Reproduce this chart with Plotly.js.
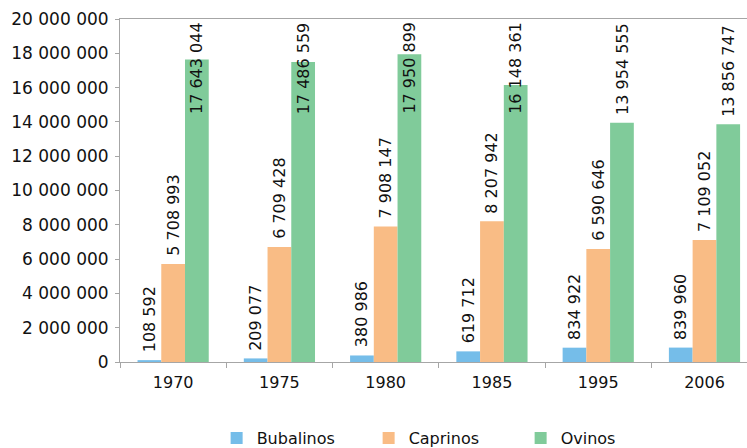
<!DOCTYPE html>
<html>
<head>
<meta charset="utf-8">
<script src="https://cdn.plot.ly/plotly-3.0.1.min.js"></script>
<style>html,body{margin:0;padding:0;background:#fff;}#chart{width:747px;height:448px;}</style>
</head>
<body>
<div id="chart"></div>
<script>
var categories = ["1970", "1975", "1980", "1985", "1995", "2006"];
var seriesNames = ["Bubalinos", "Caprinos", "Ovinos"];
var bubalinos = [108592, 209077, 380986, 619712, 834922, 839960];
var caprinos = [5708993, 6709428, 7908147, 8207942, 6590646, 7109052];
var ovinos = [17643044, 17486559, 17950899, 16148361, 13954555, 13856747];
var yTicks = [0, 2000000, 4000000, 6000000, 8000000, 10000000, 12000000, 14000000, 16000000, 18000000, 20000000];

var colors = ["#75BDE9", "#F9BC85", "#80CB9A"];
var allSeries = [bubalinos, caprinos, ovinos];

function fmt(v) {
  return String(v).replace(/\B(?=(\d{3})+(?!\d))/g, " ");
}

var traces = allSeries.map(function (vals, i) {
  return {
    type: "bar",
    name: seriesNames[i],
    x: categories,
    y: vals,
    marker: { color: colors[i], line: { width: 0 } },
    hoverinfo: "none"
  };
});

var FONT = "DejaVu Sans, sans-serif";
var FS = 16;
var capValue = 14000000;
var shifts = [-24, 0, 24];
var annotations = [];
allSeries.forEach(function (vals, i) {
  vals.forEach(function (v, j) {
    annotations.push({
      x: j,
      y: Math.min(v, capValue),
      xref: "x",
      yref: "y",
      text: fmt(v),
      textangle: -90,
      showarrow: false,
      xanchor: "center",
      yanchor: "bottom",
      xshift: shifts[i],
      yshift: 6,
      font: { family: FONT, size: FS, color: "#111" }
    });
  });
});

var layout = {
  width: 747,
  height: 448,
  margin: { l: 120, r: 0, t: 19, b: 86, autoexpand: false },
  paper_bgcolor: "#fff",
  plot_bgcolor: "#fff",
  separators: ", ",
  barmode: "group",
  bargap: 0.33,
  bargroupgap: 0,
  showlegend: true,
  legend: {
    orientation: "h",
    x: 0.29,
    xanchor: "left",
    xref: "container",
    yref: "container",
    y: 0.022,
    yanchor: "middle",
    font: { family: FONT, size: FS, color: "#111" },
    itemwidth: 30,
    entrywidth: 107
  },
  xaxis: {
    type: "category",
    range: [-0.5, 5.4],
    showline: true,
    linecolor: "#A6A6A6",
    linewidth: 1,
    mirror: true,
    ticks: "outside",
    tickson: "boundaries",
    ticklen: 5,
    tickcolor: "#A6A6A6",
    showgrid: false,
    tickangle: 0,
    ticklabelstandoff: 6,
    automargin: false,
    tickfont: { family: FONT, size: FS, color: "#111" },
    fixedrange: true
  },
  yaxis: {
    range: [0, 20000000],
    tickvals: yTicks,
    ticktext: yTicks.map(fmt),
    showline: true,
    linecolor: "#A6A6A6",
    linewidth: 1,
    ticks: "outside",
    ticklen: 4,
    tickcolor: "#A6A6A6",
    showgrid: false,
    zeroline: false,
    ticklabelstandoff: 3,
    automargin: false,
    tickfont: { family: FONT, size: 17, color: "#111" },
    fixedrange: true
  },
  annotations: annotations
};

Plotly.newPlot("chart", traces, layout, { displayModeBar: false, staticPlot: true });
</script>
</body>
</html>
